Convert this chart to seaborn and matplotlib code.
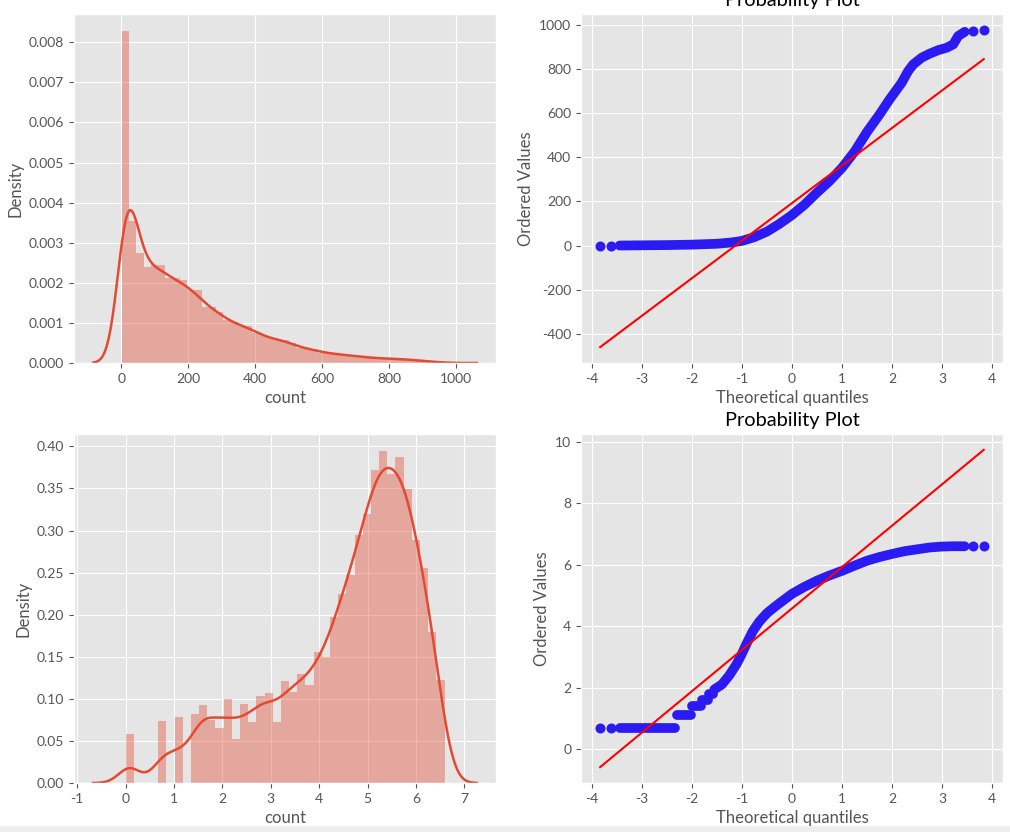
import numpy as np
import pandas as pd
import matplotlib
matplotlib.use('Agg')
import matplotlib.pyplot as plt
from matplotlib.patches import Rectangle
import seaborn as sns

# --- histogram of raw count (density per bin, 45 bins between 1 and 977)
count_min, count_max, count_bins = 1, 977, 45
count_density = [
    0.00829, 0.00355, 0.00274, 0.00240, 0.00245, 0.00245, 0.00212, 0.00212,
    0.00207, 0.00182, 0.00182, 0.00140, 0.00140, 0.00128, 0.00106, 0.00103,
    0.00093, 0.00093, 0.00076, 0.00070, 0.00062, 0.00058, 0.00058, 0.00050,
    0.00037, 0.00037, 0.00035, 0.00026, 0.00025, 0.00023, 0.00021, 0.00019,
    0.00017, 0.00015, 0.00013, 0.00012, 0.00011, 0.00011, 0.00010, 0.00009,
    0.00007, 0.00005, 0.00004, 0.00002, 0.00001,
]

# --- histogram of log(count) (39 bins between 0 and 6.59)
log_min, log_max, log_bins = 0.0, 6.59, 39
log_density = [
    0.058, 0.0, 0.0, 0.0, 0.0735, 0.0, 0.079, 0.0, 0.0815, 0.093,
    0.075, 0.065, 0.100, 0.052, 0.094, 0.072, 0.1035, 0.107, 0.073, 0.1216,
    0.1085, 0.1295, 0.1168, 0.156, 0.150, 0.197, 0.2246, 0.247, 0.2945, 0.3197,
    0.3714, 0.395, 0.3667, 0.3868, 0.349, 0.2885, 0.2554, 0.1796, 0.122,
]

# --- probability plot of count
qq1_band_z = [-3.44, -3.0, -2.5, -2.0, -1.5, -1.2, -1.0, -0.75, -0.5, -0.25,
              0.0, 0.25, 0.5, 0.75, 1.0, 1.25, 1.5, 1.75, 1.95, 2.19,
              2.32, 2.42, 2.59, 2.75, 2.92, 3.09, 3.22, 3.32, 3.45]
qq1_band_v = [0, 1, 2, 4, 8, 14, 21, 38, 63, 98,
              138, 185, 240, 292, 352, 425, 515, 594, 662, 737,
              790, 820, 851, 869, 885, 896, 911, 949, 968]
qq1_dots_z = [-3.83, -3.61, 3.61, 3.83]
qq1_dots_v = [0, 0, 973, 977]
qq1_slope, qq1_intercept = 170.3, 192.0

# --- probability plot of log count
qq2_seg = [0, 0, 1, 1, 2, 2, 3, 3, 4, 4]
qq2_seg_z = [-3.44, -2.33, -2.30, -2.02, -1.99, -1.81, -1.79, -1.68, -1.66, -1.58]
qq2_seg_v = [0.69, 0.69, 1.10, 1.10, 1.39, 1.39, 1.61, 1.61, 1.79, 1.79]
qq2_band_z = [-1.55, -1.4, -1.25, -1.1, -1.0, -0.9, -0.78, -0.65, -0.5, -0.35,
              -0.18, 0.0, 0.25, 0.5, 0.75, 1.0, 1.25, 1.5, 1.75, 2.0,
              2.25, 2.5, 2.75, 3.0, 3.2, 3.45]
qq2_band_v = [1.94, 2.1, 2.4, 2.78, 3.1, 3.45, 3.84, 4.15, 4.42, 4.62,
              4.83, 5.05, 5.28, 5.48, 5.65, 5.8, 5.97, 6.13, 6.25, 6.35,
              6.44, 6.5, 6.56, 6.59, 6.6, 6.6]
qq2_dots_z = [-3.83, -3.61, 3.61, 3.83]
qq2_dots_v = [0.69, 0.69, 6.6, 6.6]
qq2_slope, qq2_intercept = 1.348, 4.575

qq_z_range = [-3.83, 3.83]

plt.style.use('ggplot')
plt.rcParams['font.family'] = ['Lato', 'DejaVu Sans']
plt.rcParams['axes.unicode_minus'] = False

RED = '#E24A33'
BLUE = '#2b1bf2'

fig = plt.figure(figsize=(10.1, 8.32), dpi=100)
ax1 = fig.add_axes([0.0733, 0.5637, 0.4178, 0.4195])
ax2 = fig.add_axes([0.5752, 0.5637, 0.4178, 0.4195])
ax3 = fig.add_axes([0.0733, 0.0589, 0.4178, 0.4195])
ax4 = fig.add_axes([0.5752, 0.0589, 0.4178, 0.4195])


def dist(ax, lo, hi, nb, dens, bw, cut):
    edges = np.linspace(lo, hi, nb + 1)
    df = pd.DataFrame({'count': (edges[:-1] + edges[1:]) / 2,
                       'w': np.asarray(dens, dtype=float)})
    sns.histplot(data=df, x='count', weights='w', bins=list(edges), stat='count',
                 color=RED, alpha=0.4, linewidth=0, ax=ax)
    sns.kdeplot(data=df, x='count', weights='w', bw_method=bw, cut=cut,
                color=RED, linewidth=1.8, ax=ax)
    ax.set_xlabel('count')
    ax.set_ylabel('Density')


def probplot(ax, band, dots_z, dots_v, slope, intercept):
    sns.lineplot(data=band, x='z', y='v', units='seg', estimator=None,
                 sort=False, color=BLUE, linewidth=7,
                 solid_capstyle='round', solid_joinstyle='round', ax=ax)
    sns.scatterplot(x=dots_z, y=dots_v, color=BLUE, s=52, linewidth=0, ax=ax)
    zr = np.array(qq_z_range)
    sns.lineplot(x=zr, y=intercept + slope * zr, color='red', linewidth=1.5, ax=ax)
    ax.set_title('Probability Plot')
    ax.set_xlabel('Theoretical quantiles')
    ax.set_ylabel('Ordered Values')


dist(ax1, count_min, count_max, count_bins, count_density, 0.15, 2.25)
dist(ax3, log_min, log_max, log_bins, log_density, 0.15, 2.6)

band1 = pd.DataFrame({'z': qq1_band_z, 'v': qq1_band_v, 'seg': 0})
probplot(ax2, band1, qq1_dots_z, qq1_dots_v, qq1_slope, qq1_intercept)

band2 = pd.concat([
    pd.DataFrame({'z': qq2_seg_z, 'v': qq2_seg_v, 'seg': qq2_seg}),
    pd.DataFrame({'z': qq2_band_z, 'v': qq2_band_v, 'seg': 5}),
], ignore_index=True)
probplot(ax4, band2, qq2_dots_z, qq2_dots_v, qq2_slope, qq2_intercept)

fig.add_artist(Rectangle((0, 0), 1, 6 / 832, transform=fig.transFigure,
                         color='#efede9', zorder=-1))

plt.savefig('out.png', dpi=100)
